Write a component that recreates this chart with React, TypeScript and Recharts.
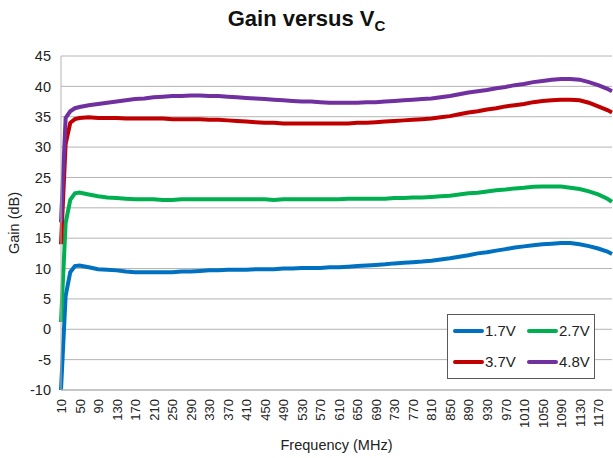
import { LineChart, Line, XAxis, YAxis, CartesianGrid } from 'recharts';

const FREQ = [
  10, 20, 30, 40, 50, 70, 90, 110, 130, 150, 170, 190, 210, 230, 250, 270, 290, 310, 330, 350,
  370, 390, 410, 430, 450, 470, 490, 510, 530, 550, 570, 590, 610, 630, 650, 670, 690, 710, 730, 750,
  770, 790, 810, 830, 850, 870, 890, 910, 930, 950, 970, 990, 1010, 1030, 1050, 1070, 1090, 1110, 1130, 1150,
  1170, 1190, 1200,
];

const V17 = [
  -10, 5.5, 9.4, 10.4, 10.5, 10.2, 9.9, 9.8, 9.7, 9.5, 9.4, 9.4, 9.4, 9.4, 9.4, 9.5, 9.5, 9.6, 9.7, 9.7,
  9.8, 9.8, 9.8, 9.9, 9.9, 9.9, 10.0, 10.0, 10.1, 10.1, 10.1, 10.2, 10.2, 10.3, 10.4, 10.5, 10.6, 10.7, 10.85, 10.95,
  11.05, 11.15, 11.3, 11.5, 11.7, 11.95, 12.2, 12.5, 12.7, 12.95, 13.2, 13.45, 13.65, 13.85, 14.0, 14.1, 14.2, 14.2, 14.0, 13.7,
  13.3, 12.8, 12.4,
];

const V27 = [
  1.2, 17.5, 21.3, 22.4, 22.5, 22.2, 21.9, 21.7, 21.6, 21.5, 21.4, 21.4, 21.4, 21.3, 21.3, 21.4, 21.4, 21.4, 21.4, 21.4,
  21.4, 21.4, 21.4, 21.4, 21.4, 21.3, 21.4, 21.4, 21.4, 21.4, 21.4, 21.4, 21.4, 21.5, 21.5, 21.5, 21.5, 21.5, 21.6, 21.6,
  21.7, 21.7, 21.8, 21.9, 22.0, 22.2, 22.4, 22.5, 22.7, 22.9, 23.0, 23.2, 23.3, 23.45, 23.5, 23.5, 23.5, 23.3, 23.1, 22.7,
  22.2, 21.5, 21.0,
];

const V37 = [
  14.0, 30.5, 34.0, 34.6, 34.8, 34.9, 34.8, 34.8, 34.8, 34.7, 34.7, 34.7, 34.7, 34.7, 34.6, 34.6, 34.6, 34.6, 34.5, 34.5,
  34.4, 34.3, 34.2, 34.1, 34.0, 34.0, 33.9, 33.9, 33.9, 33.9, 33.9, 33.9, 33.9, 33.9, 34.0, 34.0, 34.1, 34.2, 34.3, 34.4,
  34.5, 34.6, 34.7, 34.9, 35.1, 35.4, 35.7, 35.9, 36.2, 36.4, 36.7, 36.9, 37.1, 37.4, 37.6, 37.7, 37.8, 37.8, 37.7, 37.3,
  36.7, 36.1, 35.7,
];

const V48 = [
  17.6, 34.8, 35.9, 36.4, 36.6, 36.9, 37.1, 37.3, 37.5, 37.7, 37.9, 38.0, 38.2, 38.3, 38.4, 38.4, 38.5, 38.5, 38.4, 38.4,
  38.3, 38.2, 38.1, 38.0, 37.9, 37.8, 37.7, 37.6, 37.5, 37.5, 37.4, 37.3, 37.3, 37.3, 37.3, 37.4, 37.4, 37.5, 37.6, 37.7,
  37.8, 37.9, 38.0, 38.2, 38.4, 38.7, 39.0, 39.2, 39.4, 39.7, 39.9, 40.2, 40.4, 40.7, 40.9, 41.1, 41.2, 41.2, 41.1, 40.7,
  40.2, 39.6, 39.2,
];

const X_TICKS = [
  10, 50, 90, 130, 170, 210, 250, 290, 330, 370, 410, 450, 490, 530, 570, 610, 650, 690, 730, 770,
  810, 850, 890, 930, 970, 1010, 1050, 1090, 1130, 1170,
];
const Y_TICKS = [-10, -5, 0, 5, 10, 15, 20, 25, 30, 35, 40, 45];

const SERIES = [
  { key: 'v17', name: '1.7V', color: '#0070C0' },
  { key: 'v27', name: '2.7V', color: '#00B050' },
  { key: 'v37', name: '3.7V', color: '#C00000' },
  { key: 'v48', name: '4.8V', color: '#7030A0' },
];

const data = FREQ.map((f, i) => ({ f, v17: V17[i], v27: V27[i], v37: V37[i], v48: V48[i] }));

const FONT = '"Liberation Sans", Arial, sans-serif';

function FreqTick(props: any) {
  const { x, y, payload } = props;
  return (
    <text
      x={x + 5}
      y={y + 1}
      transform={`rotate(-90 ${x + 5} ${y + 1})`}
      textAnchor="end"
      fontSize={13}
      fontFamily={FONT}
      fill="#222"
    >
      {payload.value}
    </text>
  );
}

function LegendBox() {
  return (
    <div
      style={{
        position: 'absolute',
        left: 447,
        top: 314,
        width: 148,
        height: 65,
        border: '1px solid #595959',
        background: '#fff',
        display: 'grid',
        gridTemplateColumns: '74px 70px',
        gridTemplateRows: '31px 31px',
        fontFamily: FONT,
        fontSize: 15,
        color: '#222',
        boxSizing: 'border-box',
        paddingLeft: 5,
        alignItems: 'center',
      }}
    >
      {SERIES.map((s) => (
        <div key={s.key} style={{ display: 'flex', alignItems: 'center' }}>
          <span style={{ display: 'inline-block', width: 31, height: 4, borderRadius: 2, background: s.color, marginRight: 1 }} />
          {s.name}
        </div>
      ))}
    </div>
  );
}

export default function App() {
  return (
    <div style={{ position: 'absolute', left: 0, top: 0, width: 613, height: 458, background: '#fff' }}>
      <div
        style={{
          position: 'absolute',
          top: 6,
          left: 0,
          width: 613,
          textAlign: 'center',
          fontFamily: FONT,
          fontWeight: 'bold',
          fontSize: 22,
          color: '#111',
        }}
      >
        Gain versus V<sub style={{ fontSize: 15, verticalAlign: -5 }}>C</sub>
      </div>
      <LineChart width={613} height={458} data={data} margin={{ top: 56, right: 1, left: 0, bottom: 0 }}>
        <CartesianGrid vertical={false} stroke="#b4b4b4" />
        <XAxis
          dataKey="f"
          type="number"
          domain={[10, 1200]}
          ticks={X_TICKS}
          interval={0}
          tickLine={false}
          axisLine={{ stroke: '#b4b4b4' }}
          tick={<FreqTick />}
          height={68}
          label={{ value: 'Frequency (MHz)', position: 'insideBottom', offset: 8, fontSize: 14.5, fontFamily: FONT, fill: '#222' }}
        />
        <YAxis
          domain={[-10, 45]}
          ticks={Y_TICKS}
          interval={0}
          width={61}
          tickLine={false}
          tickMargin={4}
          axisLine={{ stroke: '#b4b4b4' }}
          tick={{ fontSize: 14.5, fontFamily: FONT, fill: '#222' }}
          label={{
            content: ({ viewBox }: any) => {
              const cy = viewBox.y + viewBox.height / 2;
              return (
                <text x={14} y={cy} transform={`rotate(-90 14 ${cy})`} textAnchor="middle" dominantBaseline="central" fontSize={14.5} fontFamily={FONT} fill="#222">
                  Gain (dB)
                </text>
              );
            },
          }}
        />
        {SERIES.map((s) => (
          <Line
            key={s.key}
            dataKey={s.key}
            name={s.name}
            stroke={s.color}
            strokeWidth={4}
            dot={false}
            type="linear"
            isAnimationActive={false}
          />
        ))}
      </LineChart>
      <LegendBox />
    </div>
  );
}
